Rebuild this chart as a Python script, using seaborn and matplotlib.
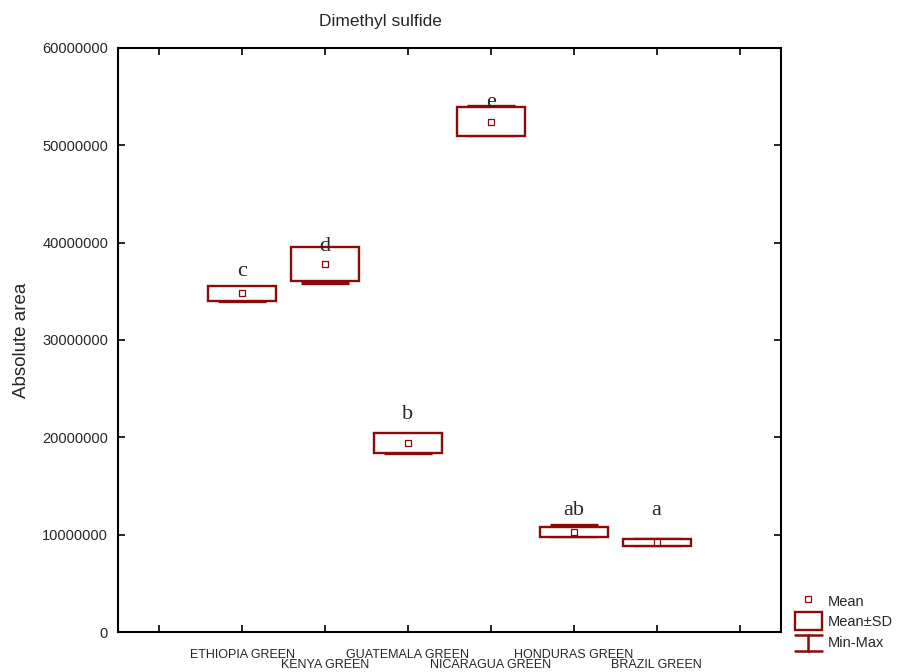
import numpy as np
import pandas as pd
import matplotlib
matplotlib.use("Agg")
import matplotlib.pyplot as plt
from matplotlib.lines import Line2D
from matplotlib.patches import Rectangle
from matplotlib.legend_handler import HandlerBase
import seaborn as sns

# ---- data ----
categories = ["ETHIOPIA GREEN", "KENYA GREEN", "GUATEMALA GREEN",
              "NICARAGUA GREEN", "HONDURAS GREEN", "BRAZIL GREEN"]
means = [34.80e6, 37.81e6, 19.42e6, 52.43e6, 10.27e6, 9.21e6]
sds = [0.75e6, 1.73e6, 1.00e6, 1.47e6, 0.545e6, 0.344e6]
mins = [34.00e6, 35.88e6, 18.34e6, 51.10e6, 9.85e6, 8.95e6]
maxs = [35.45e6, 39.30e6, 20.30e6, 54.07e6, 10.96e6, 9.58e6]
letters = ["c", "d", "b", "e", "ab", "a"]
letter_base = [36.61e6, 39.14e6, 21.85e6, 53.94e6, 12.02e6, 12.02e6]
yticks = [0, 10000000, 20000000, 30000000, 40000000, 50000000, 60000000]

COLOR = "#8B0A0A"
SANS = "Liberation Sans"

sns.set_style("ticks")
plt.rcParams["font.family"] = [SANS, "DejaVu Sans"]

df = pd.DataFrame({"category": categories, "mean": means, "sd": sds,
                   "min": mins, "max": maxs})
df["pos"] = np.arange(1, len(categories) + 1)

fig = plt.figure(figsize=(8.98, 6.72), dpi=100)
ax = fig.add_axes([0.1312, 0.0595, 0.7385, 0.8691])

box_w = 0.82
cap_w = 0.58
for _, r in df.iterrows():
    lo, hi = r["mean"] - r["sd"], r["mean"] + r["sd"]
    ax.hlines([r["min"], r["max"]], r["pos"] - cap_w / 2, r["pos"] + cap_w / 2,
              color=COLOR, lw=2.4, zorder=1.5)
    if r["max"] > hi:
        ax.vlines(r["pos"], hi, r["max"], color=COLOR, lw=1.5, zorder=1.5)
    if r["min"] < lo:
        ax.vlines(r["pos"], r["min"], lo, color=COLOR, lw=1.5, zorder=1.5)
    ax.add_patch(Rectangle((r["pos"] - box_w / 2, lo), box_w, hi - lo,
                           facecolor="white", edgecolor=COLOR, lw=1.7, zorder=2))

sns.scatterplot(data=df, x="pos", y="mean", marker="s", s=16,
                facecolor="white", edgecolor=COLOR, linewidth=0.9,
                zorder=3, ax=ax, legend=False)

for p, t, y in zip(df["pos"], letters, letter_base):
    ax.text(p, y, t, ha="center", va="baseline", fontsize=16,
            family=["Liberation Serif", "DejaVu Serif"], zorder=4)

ax.set_xlim(-0.5, len(categories) + 1.5)
ax.set_ylim(0, 60e6)
ax.set_yticks(yticks)
ax.set_yticklabels([str(v) for v in yticks], fontsize=10.5)
xt = np.arange(0, len(categories) + 2)
xl = [""] + categories + [""]
ax.set_xticks(xt)
ax.set_xticklabels(xl, fontsize=9)
ax.tick_params(direction="in", top=True, right=True, length=5, width=1.2,
               color="black")
ax.tick_params(axis="y", pad=7)
ax.tick_params(axis="x", pad=12)
for i, lab in enumerate(ax.get_xticklabels()):
    if i >= 1 and i % 2 == 0:
        lab.set_y(-0.018)
for sp in ax.spines.values():
    sp.set_linewidth(1.5)
    sp.set_color("black")
ax.set_xlabel("")
ax.set_ylabel("Absolute area", fontsize=13.5, labelpad=9)
ax.set_title("Dimethyl sulfide", fontsize=12.5, pad=15.5, x=0.3954)


class HandlerBox(HandlerBase):
    def create_artists(self, legend, orig_handle, xdescent, ydescent,
                       width, height, fontsize, trans):
        h = height * 0.95
        r = Rectangle((-xdescent, -ydescent + (height - h)), width, h,
                      facecolor="white", edgecolor=COLOR, lw=1.7, transform=trans)
        return [r]


class HandlerMinMax(HandlerBase):
    def create_artists(self, legend, orig_handle, xdescent, ydescent,
                       width, height, fontsize, trans):
        x0, x1 = -xdescent, -xdescent + width
        y0, y1 = -ydescent, -ydescent + height * 0.87
        xm = (x0 + x1) / 2
        arts = [Line2D([x0, x1], [y1, y1]), Line2D([xm, xm], [y0, y1]),
                Line2D([x0, x1], [y0, y0])]
        for a in arts:
            a.set_color(COLOR)
            a.set_linewidth(1.8)
            a.set_transform(trans)
        return arts


h_mean = Line2D([], [], marker="s", ls="none", markersize=4,
                markerfacecolor="white", markeredgecolor=COLOR, markeredgewidth=0.9)
h_sd = Rectangle((0, 0), 1, 1)
h_mm = Line2D([], [])
fig.legend([h_mean, h_sd, h_mm], ["Mean", "Mean±SD", "Min-Max"],
           handler_map={h_sd: HandlerBox(), h_mm: HandlerMinMax()},
           loc="lower left", bbox_to_anchor=(0.885, 0.031), frameon=False,
           fontsize=10.5, handlelength=1.85, handleheight=1.6, handletextpad=0.4,
           labelspacing=0.1, borderpad=0, borderaxespad=0)

fig.savefig("out.png", dpi=100, facecolor="white")
